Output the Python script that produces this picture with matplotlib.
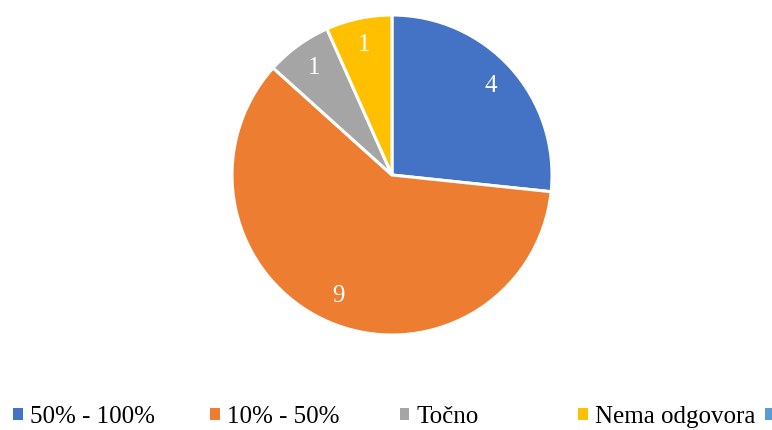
import matplotlib.pyplot as plt
from matplotlib.patches import Patch

# data
labels = ["50% - 100%", "10% - 50%", "Točno", "Nema odgovora", ""]
values = [4, 9, 1, 1, 0]
colors = ["#4472C4", "#ED7D31", "#A5A5A5", "#FFC000", "#5B9BD5"]

plt.rcParams['font.family'] = ['Liberation Serif', 'DejaVu Serif']

W, H = 772, 430
fig = plt.figure(figsize=(W / 100, H / 100), dpi=100)
cx, cy, r = 392, 175, 160
ax = fig.add_axes([(cx - r) / W, (H - cy - r) / H, 2 * r / W, 2 * r / H])

nz = [(v, c) for v, c in zip(values, colors) if v > 0]
wedges, texts, autotexts = ax.pie(
    [v for v, c in nz], colors=[c for v, c in nz],
    startangle=90, counterclock=False,
    autopct=lambda p: "%d" % round(p * sum(values) / 100.0),
    pctdistance=0.83,
    wedgeprops=dict(edgecolor="white", linewidth=2.2),
    textprops=dict(color="white", fontsize=18))
ax.set_xlim(-1, 1)
ax.set_ylim(-1, 1)
ax.set_aspect("equal")

# legend entries placed one by one
legend_x = [13, 210, 400, 578, 765]
for lab, col, x in zip(labels, colors, legend_x):
    fig.legend([Patch(facecolor=col)], [lab], loc="center left",
               bbox_to_anchor=(x / W, 1 - 417 / H), frameon=False,
               fontsize=18, handlelength=0.38, handleheight=0.38,
               handletextpad=0.3, borderpad=0, borderaxespad=0)

fig.savefig("out.png", dpi=100)
